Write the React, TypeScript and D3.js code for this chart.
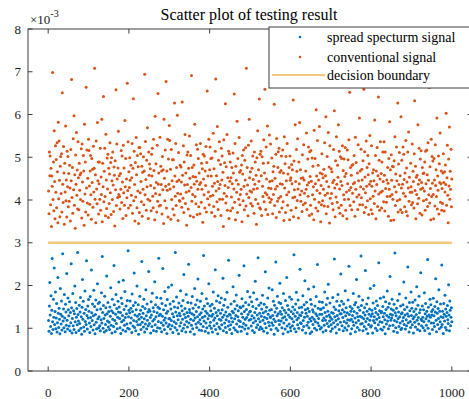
import * as d3 from "d3";

const title = "Scatter plot of testing result";
const xTicks = [0, 200, 400, 600, 800, 1000];
const yTicks = [0, 1, 2, 3, 4, 5, 6, 7, 8];
const boundary = 3; // x 1e-3
const legendLabels = ["spread specturm signal", "conventional signal", "decision boundary"];

// sample values, in units of 1e-5 (so 120 = 1.20e-3)
const spreadSpectrum = [
  118,93,152,207,131,104,176,88,142,263,115,97,168,126,241,109,139,185,99,124,158,91,113,219,135,
  102,147,121,87,193,133,110,164,96,128,274,117,145,101,179,124,92,156,138,107,228,119,98,171,143,
  129,105,162,94,137,113,251,148,89,123,181,106,141,97,134,199,115,160,90,126,146,108,277,132,117,
  95,154,111,138,172,100,127,86,149,214,121,163,103,135,93,187,116,144,109,258,130,98,152,124,167,
  140,112,90,174,125,104,236,136,118,157,96,129,189,108,151,87,132,166,114,99,143,204,122,158,101,
  127,161,106,94,145,120,183,112,268,137,100,153,123,91,175,131,109,148,95,222,134,117,160,103,139,
  114,97,150,128,195,107,141,89,168,121,136,104,247,155,118,92,133,179,111,146,99,126,163,138,208,
  150,123,101,137,88,171,115,158,130,96,212,119,144,107,186,125,93,152,134,110,165,100,281,127,142,
  98,136,164,112,147,124,90,180,139,105,153,118,229,102,131,160,94,143,116,199,128,108,155,86,121,
  133,175,109,142,97,126,256,114,151,135,103,168,122,91,146,110,190,129,99,157,119,138,106,233,144,
  111,140,125,89,162,131,104,182,117,148,95,139,121,209,108,155,127,93,172,136,101,149,116,264,130,
  146,100,133,170,113,92,158,128,240,107,143,119,97,186,124,153,112,135,88,167,140,104,196,122,109,
  123,157,98,145,118,201,106,134,90,163,127,115,150,102,277,138,111,173,96,129,148,120,87,159,135,
  105,129,188,113,152,94,141,121,165,100,226,133,108,146,125,91,179,116,137,103,160,128,250,112,144,
  137,92,121,159,107,134,174,99,147,118,131,86,193,124,155,110,139,102,166,127,215,114,149,96,132,
  120,163,110,136,95,181,125,145,104,270,117,152,128,93,140,112,169,101,135,158,122,89,204,130,106,
  152,114,141,100,128,156,91,133,185,119,106,147,124,237,97,137,164,111,129,87,176,142,103,121,160,
  99,135,119,171,108,143,126,217,94,154,131,112,167,102,138,120,90,184,128,149,105,259,116,133,97,
  131,108,157,124,88,140,115,197,136,101,163,122,145,96,130,178,110,153,92,127,141,118,224,104,150,
  116,148,93,134,169,103,126,152,111,246,139,98,121,160,107,144,125,87,186,132,100,155,119,138,173,
  140,121,105,162,129,95,151,113,183,124,90,137,210,117,146,102,168,131,108,265,122,154,97,135,115,
  103,159,128,145,99,177,119,136,93,156,126,111,232,140,101,149,123,89,171,133,114,194,106,142,127,
  125,97,144,113,190,130,107,163,121,86,154,138,116,255,100,147,129,175,95,134,118,160,109,205,139,
  158,117,133,101,148,124,87,181,112,142,127,98,165,136,120,219,105,153,91,131,144,110,173,126,102,
  94,139,168,122,106,150,134,115,272,99,143,128,157,92,184,120,137,108,166,124,100,148,131,238,113,
  130,111,149,137,96,176,118,104,155,126,211,143,89,135,161,107,128,146,114,192,101,139,122,88,167,
  117,156,92,126,143,109,138,197,121,100,152,115,134,174,96,129,249,112,147,123,106,162,133,98,144,
  145,102,133,161,118,91,148,124,107,185,137,119,95,155,128,111,170,140,203,104,131,117,159,126,93,
  108,137,121,99,172,135,113,150,262,127,103,144,118,89,163,130,109,179,122,141,97,153,134,114,227,
  134,163,106,143,125,94,157,116,138,101,188,129,148,112,96,136,120,166,105,245,132,119,151,87,140,
  121,99,146,130,115,181,107,139,155,124,92,160,113,214,135,102,127,149,118,175,96,142,128,110,269,
  153,126,111,166,94,137,122,104,148,131,235,116,98,157,140,123,88,171,109,133,145,119,193,103,128,
  106,142,134,89,159,118,200,127,113,146,100,137,164,121,95,153,132,108,253,125,141,115,170,98,136,
  139,114,96,151,127,173,103,135,120,87,162,144,110,130,187,117,149,99,126,158,106,221,133,119,145,
  124,168,131,107,142,93,156,118,276,136,101,129,147,115,90,165,123,138,104,180,127,112,152,97,134,
  100,136,117,155,125,208,109,144,131,98,171,120,106,150,134,243,113,128,91,160,141,116,102,185,130,
  147,108,161,122,89,139,127,114,166,103,145,132,197,119,97,154,125,110,175,136,94,143,230,121,106,
  118,152,126,101,143,115,183,95,134,158,122,107,140,128,261,100,149,117,131,87,168,126,155,112,139,
  131,97,144,170,112,129,104,151,138,216,119,92,162,135,109,146,123,190,99,140,115,157,127,103,248,
  109,140,125,88,158,133,117,177,102,145,128,96,137,153,120,111,202,131,94,164,142,106,126,148,115,
];

const conventional = [
  421,368,512,457,503,389,474,338,456,432,698,401,489,375,562,443,356,527,418,495,382,534,466,347,582,
  403,538,446,361,479,502,415,508,372,651,437,394,525,463,343,486,419,573,398,447,360,514,431,502,384,
  462,397,481,428,351,518,445,682,406,476,369,543,424,597,388,459,334,505,437,558,411,470,379,536,452,
  377,486,423,459,401,463,520,358,531,442,397,504,468,341,577,414,489,372,664,428,517,393,451,365,542,
  516,433,390,468,504,412,355,497,441,472,383,526,419,474,708,402,459,347,538,426,391,581,445,489,367,
  438,489,402,521,376,454,413,589,349,486,431,642,396,467,521,408,363,554,447,380,498,426,507,359,474,
  392,461,534,417,488,366,499,445,401,512,435,373,477,458,339,492,424,658,387,531,449,406,475,561,413,
  457,408,379,462,425,516,394,503,442,357,528,417,475,388,586,431,497,364,449,405,673,422,536,381,466,
  429,499,446,388,481,411,452,532,369,474,637,398,514,436,351,488,407,546,459,382,504,421,478,345,523,
  371,523,417,508,443,396,479,362,465,425,501,389,468,694,412,537,448,376,493,431,569,402,357,512,458,
  484,398,473,434,375,507,456,521,409,382,542,469,428,354,596,415,485,441,372,528,397,649,437,463,386,
  412,547,388,479,436,468,367,502,424,471,345,589,451,398,517,432,677,381,468,423,542,360,496,437,574,
  539,426,472,355,518,401,445,494,379,494,431,365,627,456,409,532,387,476,443,598,416,352,511,447,399,
  397,481,414,477,442,383,629,458,404,527,371,489,435,553,392,463,418,341,505,436,512,379,474,421,550,
  451,363,504,429,691,397,476,413,455,360,482,437,577,408,454,391,529,444,366,519,425,497,384,463,436,
  368,532,441,395,486,425,473,348,507,449,412,503,381,468,434,525,372,488,655,403,456,419,542,389,471,
  524,409,497,456,371,498,432,411,556,385,473,439,362,514,683,421,457,396,572,443,378,493,427,536,402,
  436,483,364,521,447,503,402,465,338,541,416,487,434,625,393,478,409,553,376,452,429,514,357,508,444,
  489,375,452,407,476,438,381,510,463,426,648,395,532,354,479,446,418,584,371,497,437,402,546,465,389,
  413,469,425,482,349,504,461,398,517,432,377,493,447,522,386,708,414,476,435,363,528,406,589,452,421,
  466,392,538,419,474,386,503,448,425,369,512,437,489,401,458,343,499,427,562,391,471,444,636,382,507,
  379,514,457,364,501,432,408,486,541,396,463,659,417,378,524,449,412,573,366,487,428,405,552,443,395,
  531,427,401,498,445,368,466,413,479,624,387,451,426,507,359,544,432,397,476,513,404,521,372,465,438,
  408,469,503,381,437,517,396,463,352,548,428,485,371,502,445,412,532,388,461,697,419,476,354,503,446,
  452,376,483,438,471,405,634,361,491,424,407,576,443,382,518,467,399,543,426,358,489,438,581,412,471,
  397,451,421,373,506,452,389,529,447,416,682,393,468,425,557,378,435,496,409,524,441,364,513,455,388,
  516,444,367,498,412,479,431,354,563,402,497,438,381,611,456,422,539,374,481,447,395,572,416,463,349,
  434,389,508,461,398,452,425,472,386,534,411,457,595,368,443,502,416,385,558,431,477,346,527,404,669,
  473,415,466,392,441,377,518,446,609,428,361,492,407,548,437,395,481,453,576,382,514,426,369,501,443,
  388,497,434,527,363,469,412,496,401,455,523,376,462,419,356,517,438,494,402,541,423,652,387,476,429,
  458,377,481,416,483,438,396,504,441,362,547,425,488,703,407,463,378,529,445,412,592,389,468,431,519,
  405,472,447,389,492,426,659,371,513,454,417,383,538,432,476,398,504,459,366,485,437,551,403,444,377,
  527,432,368,463,409,471,445,392,587,421,504,356,468,436,523,385,457,641,414,493,376,449,536,418,462,
  381,489,421,512,443,396,536,458,374,512,427,683,395,447,408,476,439,362,497,425,583,409,471,352,506,
  446,413,479,402,478,353,492,431,548,387,461,419,524,445,398,627,372,484,436,511,401,457,377,595,428,
  493,371,437,524,416,507,448,384,463,409,539,373,475,442,363,512,428,559,397,453,675,418,486,431,389,
  418,531,394,467,443,381,508,632,422,479,356,453,413,458,391,576,437,404,521,447,369,496,425,515,441,
  365,476,428,462,398,463,421,489,376,514,438,401,517,459,385,534,446,412,663,393,478,427,354,542,408,
  502,439,491,413,356,497,447,386,529,434,471,408,592,379,456,423,503,367,485,441,557,395,438,468,376,
  427,392,463,508,441,374,466,419,482,436,603,388,452,528,411,347,496,433,571,402,467,425,519,384,449,
];

const W = 469;
const H = 399;
const plot = { left: 28, right: 472, top: 29, bottom: 371 };
const font = "'Liberation Serif', 'Times New Roman', serif";
const axisColor = "#3c3c3c";
const textColor = "#222";
const blue = "#0072BD";
const orange = "#D95319";
const gold = "#F4C77A";

export default function App() {
  const x = d3.scaleLinear().domain([-50, 1050]).range([plot.left, plot.right]);
  const y = d3.scaleLinear().domain([0, 8]).range([plot.bottom, plot.top]);
  const tick = 4.5;

  const lg = { x: 269, y: 27, w: 220, h: 61 };
  const rowY = [lg.y + 10, lg.y + 30, lg.y + 48];

  return (
    <svg
      width={W}
      height={H}
      style={{ position: "absolute", left: 0, top: 0, background: "#fff" }}
      fontFamily={font}
    >
      {/* points */}
      {spreadSpectrum.map((v, i) => (
        <circle key={"b" + i} cx={x(i + 1)} cy={y(v / 100)} r={1.5} fill={blue} />
      ))}
      {conventional.map((v, i) => (
        <circle key={"o" + i} cx={x(i + 1)} cy={y(v / 100)} r={1.5} fill={orange} />
      ))}
      <line x1={x(0)} x2={x(1000)} y1={y(boundary)} y2={y(boundary)} stroke={gold} strokeWidth={2.5} />

      {/* axes box */}
      <rect
        x={plot.left}
        y={plot.top}
        width={plot.right - plot.left}
        height={plot.bottom - plot.top}
        fill="none"
        stroke={axisColor}
        strokeWidth={1}
      />
      {xTicks.map((t) => (
        <g key={"x" + t}>
          <line x1={x(t)} x2={x(t)} y1={plot.bottom} y2={plot.bottom - tick} stroke={axisColor} />
          <line x1={x(t)} x2={x(t)} y1={plot.top} y2={plot.top + tick} stroke={axisColor} />
          <text x={x(t)} y={397} textAnchor="middle" fontSize={13} fill={textColor}>
            {t}
          </text>
        </g>
      ))}
      {yTicks.map((t) => (
        <g key={"y" + t}>
          <line x1={plot.left} x2={plot.left + tick} y1={y(t)} y2={y(t)} stroke={axisColor} />
          <line x1={plot.right} x2={plot.right - tick} y1={y(t)} y2={y(t)} stroke={axisColor} />
          <text x={21} y={y(t) + 4.5} textAnchor="end" fontSize={13} fill={textColor}>
            {t}
          </text>
        </g>
      ))}
      <text x={30} y={24} fontSize={13} fill={textColor}>
        ×10
        <tspan dy={-7} fontSize={10}>-3</tspan>
      </text>

      <text x={249} y={20} textAnchor="middle" fontSize={16} fill="#000">
        {title}
      </text>

      {/* legend */}
      <rect x={lg.x} y={lg.y} width={lg.w} height={lg.h} fill="#fff" stroke={axisColor} strokeWidth={1} />
      <circle cx={lg.x + 31} cy={rowY[0]} r={1.3} fill={blue} />
      <circle cx={lg.x + 31} cy={rowY[1]} r={1.3} fill={orange} />
      <line x1={lg.x + 3} x2={lg.x + 56} y1={rowY[2]} y2={rowY[2]} stroke={gold} strokeWidth={2} />
      {legendLabels.map((s, i) => (
        <text key={s} x={lg.x + 58} y={rowY[i] + 5} fontSize={14} fill="#000">
          {s}
        </text>
      ))}
    </svg>
  );
}
